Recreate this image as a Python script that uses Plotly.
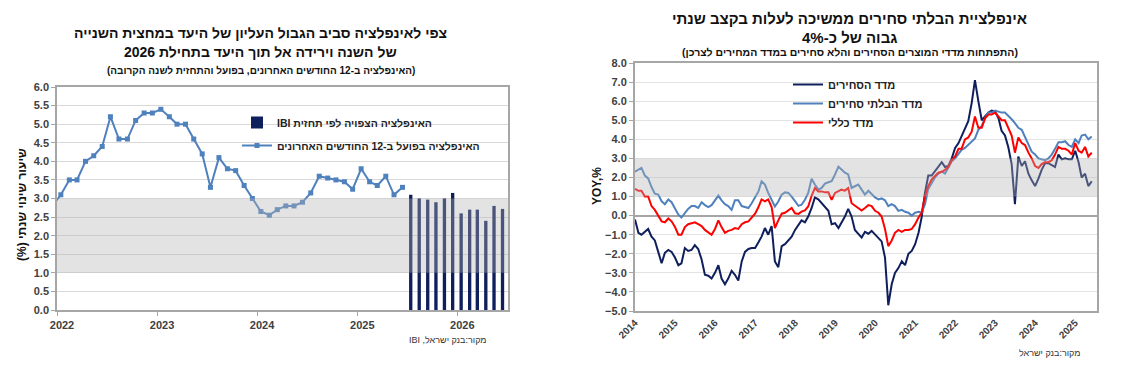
import plotly.graph_objects as go

RLE, PDF = "\u202B", "\u202C"
def rtl(s):
    return RLE + s + PDF

# ---------------- LEFT CHART DATA ----------------
left_line_months = (["2021-12"] + [f"2022-{m:02d}" for m in range(1, 13)] +
                    [f"2023-{m:02d}" for m in range(1, 13)] +
                    [f"2024-{m:02d}" for m in range(1, 13)] +
                    [f"2025-{m:02d}" for m in range(1, 7)])
left_line_values = [2.8,
                    3.1, 3.5, 3.5, 4.0, 4.15, 4.4, 5.2, 4.6, 4.6, 5.1, 5.3, 5.3,
                    5.4, 5.2, 5.0, 5.0, 4.6, 4.2, 3.3, 4.1, 3.8, 3.75, 3.35, 3.0,
                    2.65, 2.55, 2.7, 2.8, 2.8, 2.9, 3.15, 3.6, 3.55, 3.5, 3.45, 3.25,
                    3.8, 3.45, 3.35, 3.6, 3.1, 3.3]
forecast_months = [f"2025-{m:02d}" for m in range(7, 13)] + [f"2026-{m:02d}" for m in range(1, 7)]
forecast_values = [3.1, 3.0, 2.97, 2.9, 3.0, 3.15, 2.6, 2.7, 2.7, 2.4, 2.8, 2.72]
left_years = ["2022", "2023", "2024", "2025", "2026"]

# ---------------- RIGHT CHART DATA ----------------
right_months = [f"{y}-{m:02d}" for y in range(2014, 2026) for m in range(1, 13)][:138]
tradables = [-0.2, -0.9, -1.0, -0.85, -0.7, -1.1, -1.3, -1.9, -2.5, -1.95, -1.8, -1.9,
             -2.2, -2.6, -2.5, -1.7, -1.85, -1.8, -1.55, -1.75, -2.3, -3.1, -3.15, -3.3,
             -3.0, -2.6, -3.3, -3.6, -3.3, -2.9, -3.1, -3.4, -2.4, -1.9, -1.75, -1.7,
             -1.7, -1.4, -1.1, -0.65, -1.0, -0.55, -2.4, -2.7, -1.6, -1.5, -1.3, -1.1,
             -0.75, -0.45, -0.25, -0.35, -0.05, 0.4, 0.95, 0.85, 0.65, 0.5, 0.25, -0.45,
             -0.4, -0.65, -0.4, -0.05, 0.35, -0.05, -0.75, -0.95, -1.15, -0.85, -0.95, -0.8,
             -1.0, -1.2, -1.35, -2.2, -4.7, -3.6, -3.0, -2.75, -2.4, -2.6, -2.0, -1.85,
             -1.5, -0.9, -0.1, 1.2, 2.1, 2.1, 2.35, 2.55, 2.8, 2.55, 2.6, 3.0,
             3.55, 3.8, 4.15, 4.5, 4.95, 5.9, 7.1, 6.0, 5.0, 5.2, 5.4, 5.5,
             5.45, 5.1, 4.45, 4.2, 3.6, 2.7, 0.6, 3.1, 2.6, 2.85, 2.2, 1.85,
             1.55, 1.95, 2.4, 2.75, 2.75, 2.65, 2.55, 3.2, 2.95, 3.0, 2.95, 2.95,
             3.4, 2.8, 2.0, 2.2, 1.55, 1.8]
nontradables = [2.3, 2.4, 2.5, 2.1, 1.95, 1.5, 1.15, 1.1, 0.75, 0.6, 0.85, 0.7,
                0.35, 0.05, -0.1, 0.15, 0.35, 0.5, 0.5, 0.4, 0.7, 0.55, 0.45, 0.55,
                0.8, 1.05, 0.8, 0.6, 0.5, 0.3, 0.8, 0.8, 0.5, 0.45, 0.4, 0.65,
                1.0, 1.27, 1.8, 1.63, 1.19, 0.83, 0.48, 0.74, 1.1, 1.22, 1.19, 1.0,
                0.74, 0.51, 0.57, 0.83, 1.19, 1.93, 1.63, 1.36, 1.45, 1.68, 1.75, 1.8,
                2.16, 2.57, 2.42, 2.25, 2.16, 1.45, 1.54, 1.63, 1.36, 1.1, 1.3, 1.1,
                0.95, 0.85, 0.9, 0.8, 0.5, 0.6, 0.5, 0.25, 0.3, 0.2, 0.15, 0.0,
                0.15, 0.2, 0.15, 0.6, 1.4, 1.7, 2.0, 2.2, 2.3, 2.2, 2.5, 2.85,
                3.0, 3.25, 3.45, 3.55, 3.7, 3.9, 4.05, 4.5, 4.7, 5.1, 5.4, 5.4,
                5.5, 5.45, 5.4, 5.4, 5.25, 5.05, 4.85, 4.6, 4.5, 4.15, 3.75, 3.35,
                3.2, 3.0, 2.95, 2.9, 3.0, 3.2, 3.5, 3.85, 3.85, 3.9, 3.7, 3.6,
                4.0, 3.8, 4.2, 4.25, 4.0, 4.15]
general_cpi = [1.4, 1.3, 1.3, 1.0, 1.0, 0.5, 0.3, 0.0, -0.3, -0.35, -0.15, -0.3,
               -0.6, -1.0, -1.0, -0.6, -0.45, -0.4, -0.35, -0.45, -0.55, -0.75, -0.9, -1.0,
               -0.7, -0.25, -0.6, -0.9, -0.8, -0.75, -0.65, -0.7, -0.45, -0.35, -0.3, -0.1,
               0.1, 0.45, 0.85, 0.75, 0.85, 0.45, -0.65, -0.25, 0.1, 0.15, 0.3, 0.4,
               0.12, 0.09, 0.21, 0.27, 0.48, 1.04, 1.45, 1.27, 1.27, 1.22, 1.22, 0.83,
               1.19, 1.27, 1.36, 1.31, 1.45, 0.65, 0.51, 0.39, 0.27, 0.4, 0.55, 0.5,
               0.25, 0.15, -0.05, -0.7, -1.6, -1.3, -0.9, -0.75, -0.85, -0.75, -0.75, -0.7,
               -0.45, -0.1, 0.15, 1.0, 1.55, 1.9, 2.1, 2.25, 2.3, 2.4, 2.55, 2.9,
               3.1, 3.5, 3.5, 4.0, 4.1, 4.4, 5.2, 4.6, 4.6, 5.1, 5.3, 5.3,
               5.4, 5.2, 5.0, 5.0, 4.6, 4.2, 3.3, 4.1, 3.8, 3.7, 3.3, 3.0,
               2.6, 2.5, 2.7, 2.8, 2.8, 2.9, 3.2, 3.6, 3.5, 3.5, 3.4, 3.2,
               3.8, 3.4, 3.3, 3.6, 3.1, 3.3]
right_years = [str(y) for y in range(2014, 2026)]

# ---------------- TEXTS ----------------
left_title = ["צפי לאינפלציה סביב הגבול העליון של היעד במחצית השנייה",
              "של השנה וירידה אל תוך היעד בתחילת 2026"]
left_subtitle = "(האינפלציה ב-12 החודשים האחרונים, בפועל והתחזית לשנה הקרובה)"
left_ytitle = "שיעור שינוי שנתי (%)"
left_source = "מקור:בנק ישראל, IBI"
left_names = ["האינפלציה הצפויה לפי תחזית IBI", "האינפלציה בפועל ב-12 החודשים האחרונים"]
right_title = ["אינפלציית הבלתי סחירים ממשיכה לעלות בקצב שנתי", "גבוה של כ-4%"]
right_subtitle = "(התפתחות מדדי המוצרים הסחירים והלא סחירים במדד המחירים לצרכן)"
right_ytitle = "YOY,%"
right_source = "מקור:בנק ישראל"
right_names = ["מדד הסחירים", "מדד הבלתי סחירים", "מדד כללי"]

FONT = "Liberation Sans, Arial, DejaVu Sans, sans-serif"
W, H = 1130, 378
def px(x): return x / W
def py(y): return 1 - y / H

NAVY = "#0f1f5c"
BLUE = "#4f81bd"
RED = "#ff0000"
GRAY_LINE = "#a6a6a6"

fig = go.Figure()

# left
fig.add_trace(go.Bar(x=[m + "-15" for m in forecast_months], y=forecast_values,
                     name=rtl(left_names[0]), marker_color=NAVY, marker_line_width=0,
                     width=1.05e9, xaxis="x", yaxis="y", legend="legend",
                     legendgroup="a"))
fig.add_trace(go.Scatter(x=[m + "-15" for m in left_line_months], y=left_line_values,
                         name=rtl(left_names[1]), mode="lines+markers",
                         line=dict(color=BLUE, width=2),
                         marker=dict(symbol="square", size=5, color=BLUE),
                         xaxis="x", yaxis="y", legend="legend", legendgroup="b"))
# right
for name, vals, col in zip(right_names, [tradables, nontradables, general_cpi], [NAVY, BLUE, RED]):
    fig.add_trace(go.Scatter(x=[m + "-01" for m in right_months], y=vals, name=rtl(name),
                             mode="lines", line=dict(color=col, width=2),
                             xaxis="x2", yaxis="y2", legend="legend2"))

tickfont = dict(family=FONT, size=11, color="#404040", weight="bold")

fig.update_layout(
    width=W, height=H, margin=dict(l=0, r=0, t=0, b=0, autoexpand=False),
    paper_bgcolor="white", plot_bgcolor="white",
    font=dict(family=FONT, color="#222"),
    showlegend=True,
    xaxis=dict(domain=[px(57), px(508)], type="date",
               range=["2022-01-01", "2026-07-05"],
               tickvals=[y + "-01-01" for y in left_years], ticktext=left_years,
               ticks="outside", ticklen=4, tickcolor=GRAY_LINE, ticklabelshift=5,
               showline=True, linecolor=GRAY_LINE, linewidth=1.5, mirror=True,
               showgrid=False, tickfont=tickfont, anchor="y", automargin=False),
    yaxis=dict(domain=[py(310), py(87)], range=[0, 6], dtick=0.5, tickformat=".1f",
               ticks="outside", ticklen=4, tickcolor=GRAY_LINE,
               showline=True, linecolor=GRAY_LINE, linewidth=1.5, mirror=True,
               gridcolor="#d9d9d9", zeroline=False, tickfont=tickfont, anchor="x",
               automargin=False),
    xaxis2=dict(domain=[px(635), px(1097)], type="date",
                range=["2014-01-01", "2025-07-19"],
                tickvals=[y + "-01-01" for y in right_years], ticktext=right_years,
                tickangle=-45, ticks="", showline=True, linecolor=GRAY_LINE,
                linewidth=2, mirror=True, showgrid=False,
                tickfont=dict(family=FONT, size=10, color="#404040", weight="bold"),
                anchor="y2", automargin=False),
    xaxis3=dict(overlaying="x2", anchor="free", position=py(215.7), type="date",
                range=["2014-01-01", "2025-07-19"],
                tickvals=[y + "-01-01" for y in right_years],
                ticks="outside", ticklen=4, tickcolor=GRAY_LINE, showticklabels=False,
                showline=False, showgrid=False, automargin=False),
    yaxis2=dict(domain=[py(311), py(63)], range=[-5, 8], dtick=1, tickformat=".1f",
                ticks="outside", ticklen=4, tickcolor=GRAY_LINE,
                showline=True, linecolor=GRAY_LINE, linewidth=2, mirror=True,
                gridcolor="#e3e3e3", zeroline=True, zerolinecolor=GRAY_LINE,
                zerolinewidth=1.5, tickfont=tickfont, anchor="x2", automargin=False),
    legend=dict(x=px(237), y=py(108), xanchor="left", yanchor="top",
                bgcolor="rgba(0,0,0,0)", traceorder="grouped", tracegroupgap=4,
                font=dict(family=FONT, size=10.5, color="#222", weight="bold")),
    legend2=dict(x=px(788), y=py(70), xanchor="left", yanchor="top",
                 bgcolor="rgba(0,0,0,0)", tracegroupgap=0,
                 font=dict(family=FONT, size=11, color="#222", weight="bold")),
)

# target bands (drawn above with transparency like the reference)
for xr, yr in [("x", "y"), ("x2", "y2")]:
    fig.add_shape(type="rect", xref=f"{xr} domain", yref=yr, x0=0, x1=1, y0=1, y1=3,
                  fillcolor="rgba(179,179,179,0.37)", line_width=0, layer="above")

ann = []
def add_text(x, y, text, size, bold=True, xanchor="center", angle=0, color="#111"):
    ann.append(dict(x=px(x), y=py(y), xref="paper", yref="paper", text=text,
                    showarrow=False, xanchor=xanchor, yanchor="middle", textangle=angle,
                    font=dict(family=FONT, size=size, color=color,
                              weight="bold" if bold else "normal")))

add_text(260, 33, rtl(left_title[0]), 14)
add_text(260, 52, rtl(left_title[1]), 14)
add_text(261, 71, rtl(left_subtitle), 10)
add_text(22, 205, rtl(left_ytitle), 12, angle=-90)
add_text(489, 340, rtl(left_source), 9, bold=False, xanchor="right", color="#333")

add_text(850, 19, rtl(right_title[0]), 15)
add_text(850, 37, rtl(right_title[1]), 15)
add_text(850, 52, rtl(right_subtitle), 10.5)
add_text(597, 186, right_ytitle, 12, angle=-90)
add_text(1083, 353, rtl(right_source), 9, bold=False, xanchor="right", color="#333")

fig.update_layout(annotations=ann)
fig.write_html("out.html", config={"displayModeBar": False},
               post_script="document.body.style.margin='0';document.body.style.overflow='hidden';")
